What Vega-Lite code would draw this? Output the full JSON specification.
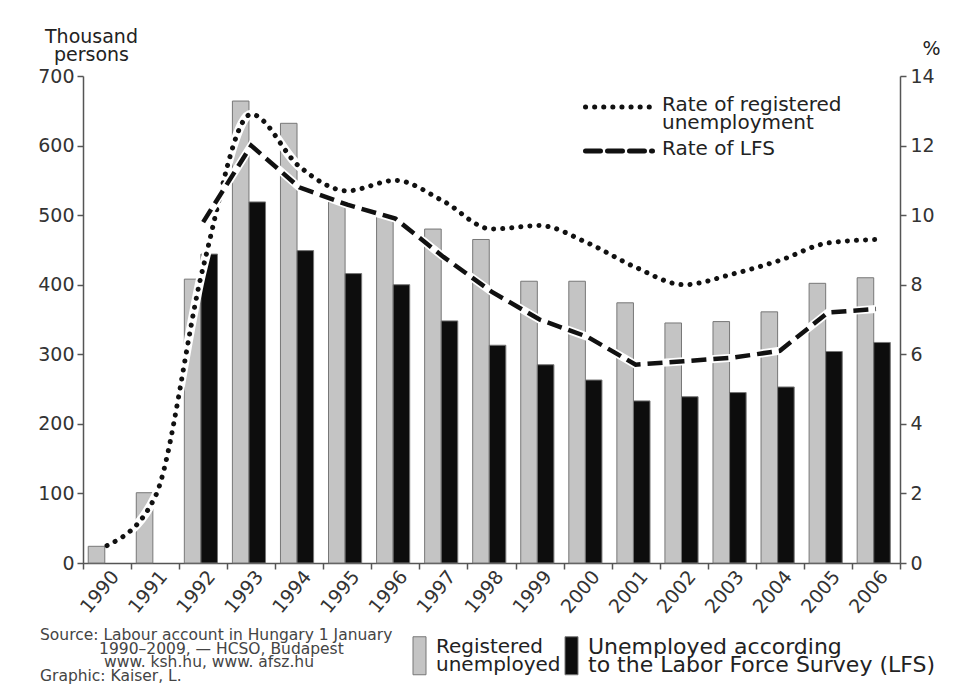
{
  "$schema": "https://vega.github.io/schema/vega-lite/v6.json",
  "width": 817,
  "height": 487,
  "autosize": {"type": "none"},
  "padding": {"left": 83, "top": 76, "right": 63, "bottom": 133},
  "background": "white",
  "config": {
    "view": {"stroke": null},
    "font": "DejaVu Sans",
    "axis": {
      "domainColor": "#555",
      "domainWidth": 1.5,
      "tickColor": "#555",
      "tickWidth": 1.5,
      "tickSize": 6,
      "labelColor": "#333",
      "labelFontSize": 19,
      "titleColor": "#222",
      "titleFontWeight": "normal",
      "titleFontSize": 19,
      "grid": false
    }
  },
  "datasets": {
    "bars": [
      {"year": 1990, "series": "Registered unemployed", "value": 24},
      {"year": 1991, "series": "Registered unemployed", "value": 101},
      {"year": 1992, "series": "Registered unemployed", "value": 408},
      {"year": 1993, "series": "Registered unemployed", "value": 664},
      {"year": 1994, "series": "Registered unemployed", "value": 632},
      {"year": 1995, "series": "Registered unemployed", "value": 519},
      {"year": 1996, "series": "Registered unemployed", "value": 500},
      {"year": 1997, "series": "Registered unemployed", "value": 480},
      {"year": 1998, "series": "Registered unemployed", "value": 465},
      {"year": 1999, "series": "Registered unemployed", "value": 405},
      {"year": 2000, "series": "Registered unemployed", "value": 405},
      {"year": 2001, "series": "Registered unemployed", "value": 374},
      {"year": 2002, "series": "Registered unemployed", "value": 345},
      {"year": 2003, "series": "Registered unemployed", "value": 347},
      {"year": 2004, "series": "Registered unemployed", "value": 361},
      {"year": 2005, "series": "Registered unemployed", "value": 402},
      {"year": 2006, "series": "Registered unemployed", "value": 410},
      {"year": 1992, "series": "LFS", "value": 444},
      {"year": 1993, "series": "LFS", "value": 519},
      {"year": 1994, "series": "LFS", "value": 449},
      {"year": 1995, "series": "LFS", "value": 416},
      {"year": 1996, "series": "LFS", "value": 400},
      {"year": 1997, "series": "LFS", "value": 348},
      {"year": 1998, "series": "LFS", "value": 313},
      {"year": 1999, "series": "LFS", "value": 285},
      {"year": 2000, "series": "LFS", "value": 263},
      {"year": 2001, "series": "LFS", "value": 233},
      {"year": 2002, "series": "LFS", "value": 239},
      {"year": 2003, "series": "LFS", "value": 245},
      {"year": 2004, "series": "LFS", "value": 253},
      {"year": 2005, "series": "LFS", "value": 304},
      {"year": 2006, "series": "LFS", "value": 317}
    ],
    "rates": [
      {"year": 1990, "series": "Rate of registered unemployment", "rate": 0.5},
      {"year": 1991, "series": "Rate of registered unemployment", "rate": 1.9},
      {"year": 1992, "series": "Rate of registered unemployment", "rate": 8.5},
      {"year": 1993, "series": "Rate of registered unemployment", "rate": 12.9},
      {"year": 1994, "series": "Rate of registered unemployment", "rate": 11.4},
      {"year": 1995, "series": "Rate of registered unemployment", "rate": 10.7},
      {"year": 1996, "series": "Rate of registered unemployment", "rate": 11.0},
      {"year": 1997, "series": "Rate of registered unemployment", "rate": 10.4},
      {"year": 1998, "series": "Rate of registered unemployment", "rate": 9.6},
      {"year": 1999, "series": "Rate of registered unemployment", "rate": 9.7},
      {"year": 2000, "series": "Rate of registered unemployment", "rate": 9.2},
      {"year": 2001, "series": "Rate of registered unemployment", "rate": 8.5},
      {"year": 2002, "series": "Rate of registered unemployment", "rate": 8.0},
      {"year": 2003, "series": "Rate of registered unemployment", "rate": 8.3},
      {"year": 2004, "series": "Rate of registered unemployment", "rate": 8.7},
      {"year": 2005, "series": "Rate of registered unemployment", "rate": 9.2},
      {"year": 2006, "series": "Rate of registered unemployment", "rate": 9.3},
      {"year": 1992, "series": "Rate of LFS", "rate": 9.8},
      {"year": 1993, "series": "Rate of LFS", "rate": 12.0},
      {"year": 1994, "series": "Rate of LFS", "rate": 10.8},
      {"year": 1995, "series": "Rate of LFS", "rate": 10.3},
      {"year": 1996, "series": "Rate of LFS", "rate": 9.9},
      {"year": 1997, "series": "Rate of LFS", "rate": 8.8},
      {"year": 1998, "series": "Rate of LFS", "rate": 7.8},
      {"year": 1999, "series": "Rate of LFS", "rate": 7.0},
      {"year": 2000, "series": "Rate of LFS", "rate": 6.5},
      {"year": 2001, "series": "Rate of LFS", "rate": 5.7},
      {"year": 2002, "series": "Rate of LFS", "rate": 5.8},
      {"year": 2003, "series": "Rate of LFS", "rate": 5.9},
      {"year": 2004, "series": "Rate of LFS", "rate": 6.1},
      {"year": 2005, "series": "Rate of LFS", "rate": 7.2},
      {"year": 2006, "series": "Rate of LFS", "rate": 7.3}
    ]
  },
  "title": {
    "text": [
      "Source: Labour account in Hungary 1 January",
      "\u200b\u00a0\u00a0\u00a0\u00a0\u00a0\u00a0\u00a0\u00a0\u00a0\u00a0\u00a0\u00a01990–2009, — HCSO, Budapest",
      "\u200b\u00a0\u00a0\u00a0\u00a0\u00a0\u00a0\u00a0\u00a0\u00a0\u00a0\u00a0\u00a0\u00a0www. ksh.hu, www. afsz.hu",
      "Graphic: Kaiser, L."
    ],
    "orient": "bottom",
    "anchor": "start",
    "frame": "group",
    "fontSize": 15.5,
    "fontWeight": "normal",
    "color": "#444",
    "lineHeight": 13.5,
    "dx": -43,
    "offset": -49
  },
  "layer": [
    {
      "data": {"name": "bars"},
      "mark": {"type": "bar", "stroke": "#777", "strokeWidth": 1},
      "encoding": {
        "x": {
          "field": "year",
          "type": "ordinal",
          "scale": {"type": "band", "paddingInner": 0, "paddingOuter": 0},
          "axis": {
            "title": null,
            "labelAngle": -50,
            "labelAlign": "right",
            "labelBaseline": "middle",
            "labelPadding": 4,
            "labelOffset": 8,
            "tickBand": "extent"
          }
        },
        "xOffset": {
          "field": "series",
          "type": "nominal",
          "sort": ["Registered unemployed", "LFS"],
          "scale": {"paddingInner": 0, "paddingOuter": 0.45, "align": 0.35}
        },
        "y": {
          "field": "value",
          "type": "quantitative",
          "scale": {"domain": [0, 700]},
          "axis": {
            "orient": "left",
            "values": [0, 100, 200, 300, 400, 500, 600, 700],
            "labelPadding": 3,
            "title": ["Thousand", "persons"],
            "titleAngle": 0,
            "titleAlign": "center",
            "titleBaseline": "top",
            "titleX": 8,
            "titleY": -49,
            "titleLineHeight": 18
          }
        },
        "fill": {
          "field": "series",
          "type": "nominal",
          "scale": {"domain": ["Registered unemployed", "LFS"], "range": ["#c4c4c4", "#0d0d0d"]},
          "legend": {
            "orient": "none",
            "legendX": 326,
            "legendY": 569,
            "direction": "horizontal",
            "columns": 2,
            "columnPadding": 0,
            "title": null,
            "symbolType": "M-0.65,-1.9H0.65V1.9H-0.65Z",
            "symbolSize": 400,
            "symbolStrokeColor": "#777",
            "symbolStrokeWidth": 1,
            "labelFontSize": 20,
            "labelColor": "#222",
            "labelLimit": 500,
            "labelOffset": 6,
            "labelExpr": "datum.label == 'LFS' ? ['Unemployed according', 'to the Labor Force Survey (LFS)'] : ['Registered', 'unemployed']",
            "encode": {
              "labels": {"update": {
                "dy": {"value": -9},
                "lineHeight": {"value": 18},
                "fontSize": {"signal": "datum.value == 'LFS' ? 22 : 20"}
              }}
            }
          }
        }
      }
    },
    {
      "data": {"name": "rates"},
      "encoding": {
        "x": {
          "field": "year",
          "type": "ordinal",
          "scale": {"type": "band", "paddingInner": 0, "paddingOuter": 0}
        },
        "y": {
          "field": "rate",
          "type": "quantitative",
          "scale": {"domain": [0, 14]},
          "axis": {
            "orient": "right",
            "values": [0, 2, 4, 6, 8, 10, 12, 14],
            "labelPadding": 4,
            "title": "%",
            "titleAngle": 0,
            "titleAlign": "center",
            "titleBaseline": "top",
            "titleX": 31,
            "titleY": -37
          }
        }
      },
      "layer": [
        {
          "transform": [{"filter": "datum.series == 'Rate of registered unemployment'"}],
          "mark": {"type": "line", "color": "white", "strokeWidth": 9, "interpolate": "monotone"}
        },
        {
          "transform": [{"filter": "datum.series == 'Rate of registered unemployment'"}],
          "mark": {"type": "line", "color": "#111", "strokeWidth": 5, "strokeCap": "round", "interpolate": "monotone"},
          "encoding": {
            "strokeDash": {
              "field": "series",
              "type": "nominal",
              "scale": {"domain": ["Rate of registered unemployment", "Rate of LFS"], "range": [[0.1, 9], [15, 7]]},
              "legend": {
                "orient": "none",
                "legendX": 526,
                "legendY": 21,
                "title": null,
                "symbolType": "M-6.7,0H6.7",
                "symbolSize": 100,
                "symbolStrokeWidth": 5,
                "symbolStrokeColor": "#111",
                "symbolFillColor": "transparent",
                "labelFontSize": 20,
                "labelColor": "#222",
                "labelLimit": 500,
                "labelOffset": 33,
                "labelBaseline": "top",
                "rowPadding": 6,
                "labelExpr": "datum.label == 'Rate of LFS' ? 'Rate of LFS' : ['Rate of registered', 'unemployment']",
                "encode": {
                  "symbols": {"update": {"strokeCap": {"value": "round"}}},
                  "labels": {"update": {"dy": {"value": -12}, "lineHeight": {"value": 18}}}
                }
              }
            }
          }
        },
        {
          "transform": [{"filter": "datum.series == 'Rate of LFS'"}],
          "mark": {"type": "line", "color": "white", "strokeWidth": 8, "interpolate": "linear"}
        },
        {
          "transform": [{"filter": "datum.series == 'Rate of LFS'"}],
          "mark": {"type": "line", "color": "#111", "strokeWidth": 4.5, "interpolate": "linear"},
          "encoding": {
            "strokeDash": {"field": "series", "type": "nominal"}
          }
        }
      ]
    }
  ],
  "resolve": {"scale": {"y": "independent"}}
}
